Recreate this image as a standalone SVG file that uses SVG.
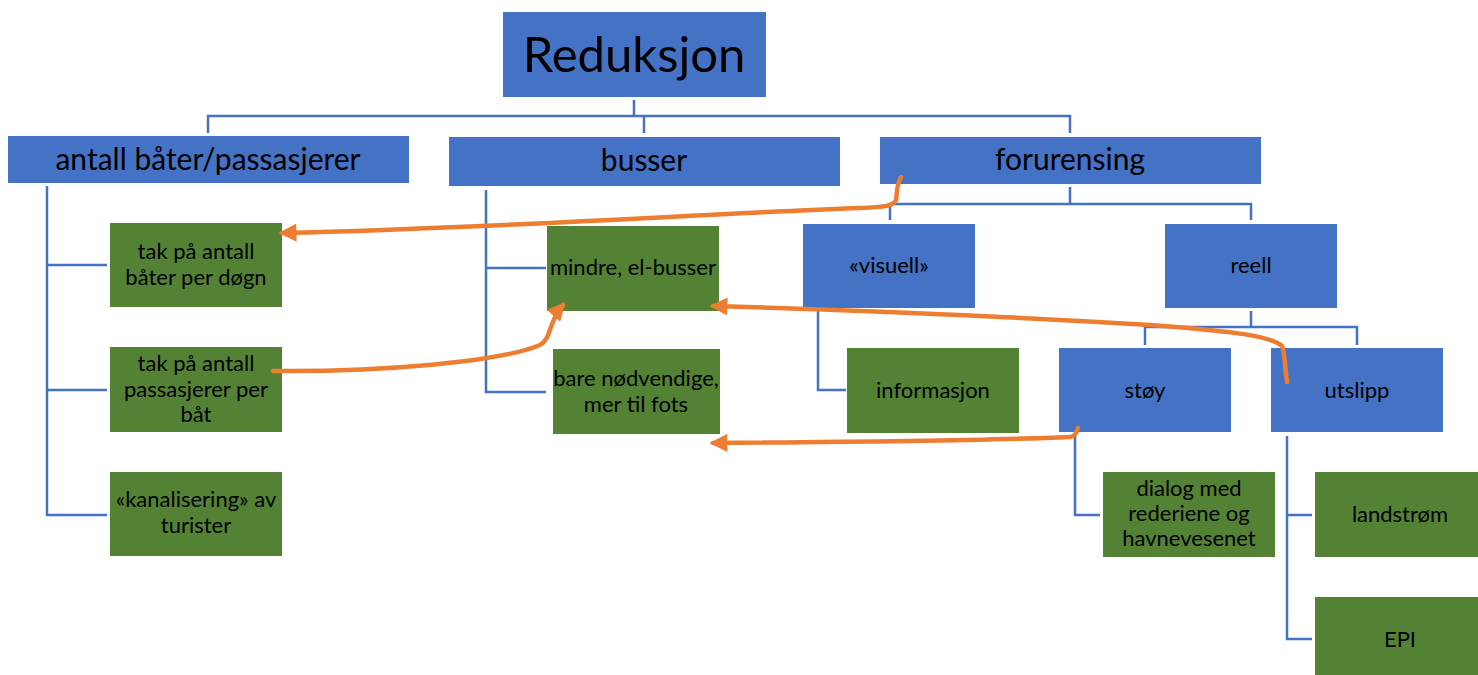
<svg xmlns="http://www.w3.org/2000/svg" width="1478" height="675" viewBox="0 0 1478 675">
<defs>
<style>
.b{fill:#4472C4}
.g{fill:#548235}
.t{font-family:Lato,"Open Sans",sans-serif;fill:#000;text-anchor:middle;font-size:22px}
.l{fill:none;stroke:#4472C4;stroke-width:2.5}
.o{fill:none;stroke:#ED7D31;stroke-width:4.5;stroke-linecap:round;stroke-linejoin:round}
</style>
<marker id="ah" viewBox="0 0 10 10" refX="8" refY="5" markerWidth="4.5" markerHeight="4" orient="auto" markerUnits="strokeWidth">
<path d="M0,0 L10,5 L0,10 z" fill="#ED7D31"/>
</marker>
</defs>
<rect width="1478" height="675" fill="#fff"/>
<g id="connectors">
<path class="l" d="M634,100 V116 M208,133 V116 H1070 V133 M644,116 V133"/>
<path class="l" d="M47,186 V515 H107 M47,265 H107 M47,390 H107"/>
<path class="l" d="M486,190 V392 H546 M486,268 H546"/>
<path class="l" d="M1070,187 V204 M890,220 V204 H1251 V220"/>
<path class="l" d="M818,311 V390 H846"/>
<path class="l" d="M1251,311 V327 M1145,345 V327 H1357 V345"/>
<path class="l" d="M1075,435 V515 H1100"/>
<path class="l" d="M1287,436 V639 H1312 M1287,515 H1312"/>
</g>
<g id="n-root"><rect class="b" x="503" y="12" width="263" height="85"/><text class="t" x="634" y="72" style="font-size:49px">Reduksjon</text></g>
<g id="n-antall"><rect class="b" x="8" y="136" width="401" height="47"/><text class="t" x="208" y="170" style="font-size:30px">antall båter/passasjerer</text></g>
<g id="n-busser"><rect class="b" x="449" y="137" width="391" height="49"/><text class="t" x="644" y="171" style="font-size:30px">busser</text></g>
<g id="n-forurensing"><rect class="b" x="880" y="137" width="381" height="47"/><text class="t" x="1070" y="170" style="font-size:30px">forurensing</text></g>
<g id="n-tak1"><rect class="g" x="110" y="223" width="172" height="84"/><text class="t" x="196" y="259">tak på antall</text><text class="t" x="196" y="285">båter per døgn</text></g>
<g id="n-tak2"><rect class="g" x="110" y="347" width="172" height="85"/><text class="t" x="196" y="371">tak på antall</text><text class="t" x="196" y="397">passasjerer per</text><text class="t" x="196" y="422">båt</text></g>
<g id="n-kanal"><rect class="g" x="110" y="472" width="172" height="84"/><text class="t" x="196" y="507">«kanalisering» av</text><text class="t" x="196" y="533">turister</text></g>
<g id="n-mindre"><rect class="g" x="547" y="226" width="172" height="85"/><text class="t" x="633" y="275">mindre, el-busser</text></g>
<g id="n-bare"><rect class="g" x="553" y="349" width="167" height="85"/><text class="t" x="636" y="386">bare nødvendige,</text><text class="t" x="636" y="412">mer til fots</text></g>
<g id="n-visuell"><rect class="b" x="803" y="224" width="172" height="84"/><text class="t" x="889" y="273">«visuell»</text></g>
<g id="n-reell"><rect class="b" x="1165" y="224" width="172" height="84"/><text class="t" x="1251" y="273">reell</text></g>
<g id="n-info"><rect class="g" x="847" y="348" width="172" height="85"/><text class="t" x="933" y="398">informasjon</text></g>
<g id="n-stoy"><rect class="b" x="1059" y="348" width="172" height="84"/><text class="t" x="1145" y="398">støy</text></g>
<g id="n-utslipp"><rect class="b" x="1271" y="348" width="172" height="84"/><text class="t" x="1357" y="398">utslipp</text></g>
<g id="n-dialog"><rect class="g" x="1103" y="472" width="172" height="85"/><text class="t" x="1189" y="496">dialog med</text><text class="t" x="1189" y="521">rederiene og</text><text class="t" x="1189" y="546">havnevesenet</text></g>
<g id="n-land"><rect class="g" x="1315" y="472" width="170" height="85"/><text class="t" x="1400" y="522">landstrøm</text></g>
<g id="n-epi"><rect class="g" x="1315" y="597" width="170" height="85"/><text class="t" x="1400" y="647">EPI</text></g>
<g id="arrows">
<path class="o" marker-end="url(#ah)" d="M901,177 C896,186 897,195 896,200 C894,206 885,207 860,208 C700,214 500,228 282,233"/>
<path class="o" marker-end="url(#ah)" d="M273,371 C380,372 500,362 540,345 C552,338 548,322 563,305"/>
<path class="o" marker-end="url(#ah)" d="M1287,382 C1285,370 1285,352 1282,346 C1270,336 1240,332 1150,325 C1000,316 850,310 713,306"/>
<path class="o" marker-end="url(#ah)" d="M1078,428 C1076,432 1076,436 1070,437 C1000,440 850,442 713,443"/>
</g>
</svg>
